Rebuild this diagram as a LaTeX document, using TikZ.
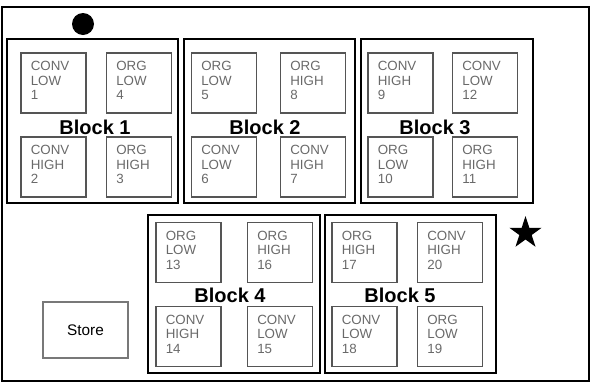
\documentclass[tikz,border=0pt]{standalone}
\usepackage{fontspec}
\setmainfont{Liberation Sans}
\usetikzlibrary{shapes.geometric}

\tikzset{every picture/.style={line width=0.75pt}}
\tikzset{
  block/.style={draw=black, line width=2.2pt},
  plot/.style={draw={rgb, 255:red, 85; green, 85; blue, 85}, line width=1pt, minimum width=48.75pt, minimum height=45pt, inner sep=0pt},
  plottext/.style={anchor=north west, inner sep=0pt, xshift=7.5pt, yshift=-6.5pt, align=left, text={rgb, 255:red, 105; green, 105; blue, 105}, font=\fontsize{10}{10.9}\selectfont},
  blocklabel/.style={inner sep=0.75pt, font=\fontsize{15}{17}\selectfont\bfseries},
}

\begin{document}
\begin{tikzpicture}[x=0.75pt,y=0.75pt,yscale=-1,xscale=1]
\useasboundingbox (0,0) rectangle (596,383);

%Shape: Rectangle [frame]
\draw [line width=1.2pt] (2,7) rectangle (589,381);

%Shape: Rectangle [blocks]
\draw [block] (7,39) rectangle (178,203);
\draw [block] (184,39) rectangle (355,203);
\draw [block] (361,39) rectangle (533,203);
\draw [block] (148,215) rectangle (320,373);
\draw [block] (325,215) rectangle (496,373);

% Block 1
\node [plot] (p1) at (53.5,83) {};
\node [plottext] (t1) at (p1.north west) {CONV\\LOW\\1};
\node [plot] (p4) at (139,83) {};
\node [plottext] (t4) at (p4.north west) {ORG\\LOW\\4};
\node [plot] (p2) at (53.5,167) {};
\node [plottext] (t2) at (p2.north west) {CONV\\HIGH\\2};
\node [plot] (p3) at (139,167) {};
\node [plottext] (t3) at (p3.north west) {ORG\\HIGH\\3};
\node [blocklabel] (b1) at (95,127) {Block 1};

% Block 2
\node [plot] (p5) at (224,83) {};
\node [plottext] (t5) at (p5.north west) {ORG\\LOW\\5};
\node [plot] (p8) at (313,83) {};
\node [plottext] (t8) at (p8.north west) {ORG\\HIGH\\8};
\node [plot] (p6) at (224,167) {};
\node [plottext] (t6) at (p6.north west) {CONV\\LOW\\6};
\node [plot] (p7) at (313,167) {};
\node [plottext] (t7) at (p7.north west) {CONV\\HIGH\\7};
\node [blocklabel] (b2) at (265,127) {Block 2};

% Block 3
\node [plot] (p9) at (400.5,83) {};
\node [plottext] (t9) at (p9.north west) {CONV\\HIGH\\9};
\node [plot] (p12) at (485,83) {};
\node [plottext] (t12) at (p12.north west) {CONV\\LOW\\12};
\node [plot] (p10) at (400.5,167) {};
\node [plottext] (t10) at (p10.north west) {ORG\\LOW\\10};
\node [plot] (p11) at (485,167) {};
\node [plottext] (t11) at (p11.north west) {ORG\\HIGH\\11};
\node [blocklabel] (b3) at (435,127) {Block 3};

% Block 4
\node [plot] (p13) at (188.5,252.5) {};
\node [plottext] (t13) at (p13.north west) {ORG\\LOW\\13};
\node [plot] (p16) at (280,252.5) {};
\node [plottext] (t16) at (p16.north west) {ORG\\HIGH\\16};
\node [plot] (p14) at (188.5,336.5) {};
\node [plottext] (t14) at (p14.north west) {CONV\\HIGH\\14};
\node [plot] (p15) at (280,336.5) {};
\node [plottext] (t15) at (p15.north west) {CONV\\LOW\\15};
\node [blocklabel] (b4) at (230,295) {Block 4};

% Block 5
\node [plot] (p17) at (364.5,252.5) {};
\node [plottext] (t17) at (p17.north west) {ORG\\HIGH\\17};
\node [plot] (p20) at (450,252.5) {};
\node [plottext] (t20) at (p20.north west) {CONV\\HIGH\\20};
\node [plot] (p18) at (364.5,336.5) {};
\node [plottext] (t18) at (p18.north west) {CONV\\LOW\\18};
\node [plot] (p19) at (450,336.5) {};
\node [plottext] (t19) at (p19.north west) {ORG\\LOW\\19};
\node [blocklabel] (b5) at (400,295) {Block 5};

% Store
\node [draw={rgb, 255:red, 120; green, 120; blue, 120}, line width=0.9pt, minimum width=63.75pt, minimum height=42pt, font=\fontsize{11.5}{13}\selectfont] (store) at (85.5,330) {Store};

% Markers
\node [circle, fill=black, minimum size=16.5pt, inner sep=0pt] (dot) at (83,24) {};
\node [star, star points=5, star point ratio=2.618, fill=black, minimum size=25.5pt, inner sep=0pt] (mark) at (525.5,233) {};

\end{tikzpicture}
\end{document}
